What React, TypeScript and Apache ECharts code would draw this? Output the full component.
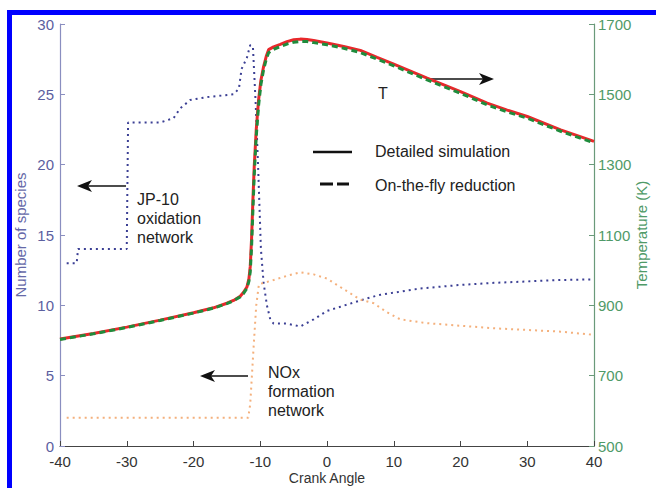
import React, { useEffect, useRef } from "react";
import * as echarts from "echarts";

// Crank angle axis ticks
const angleTicks = [-40, -30, -20, -10, 0, 10, 20, 30, 40];

// Temperature (K) versus crank angle
const tempAngles = [
  -40, -35, -30, -25, -20, -17, -15, -14, -13, -12.5, -12, -11.7, -11.5, -11.3, -11.1, -10.9,
  -10.6, -10.25, -9.9, -9.5, -9.1, -8.75, -8, -7, -6, -5, -4, -3, -2, 0, 2.5, 5, 7.5, 10,
  12.5, 15, 17.5, 20, 24, 27, 30, 35, 40,
];
const tempDetailed = [
  804, 820, 838, 858, 879, 893, 906, 914, 926, 937, 952, 975, 1010, 1090, 1200, 1295,
  1400, 1484, 1540, 1579, 1608, 1627, 1635, 1642, 1650, 1655, 1657, 1656, 1653, 1646, 1636, 1625, 1605, 1586,
  1566, 1546, 1527, 1508, 1475, 1455, 1437, 1399, 1366,
];
const tempReduced = [
  803, 819, 837, 857, 878, 892, 905, 913, 924, 934, 948, 968, 995, 1065, 1170, 1270,
  1380, 1468, 1528, 1570, 1600, 1618, 1628, 1636, 1643, 1648, 1650, 1650, 1647, 1641, 1631, 1619, 1600, 1581,
  1561, 1541, 1522, 1503, 1470, 1450, 1432, 1395, 1362,
];

// Number of species in the JP-10 oxidation network
const jp10Angles = [
  -39, -37.5, -37.3, -30, -29.8, -27, -25, -23, -22, -20.5, -18, -14, -13.2, -12.8, -12, -11.5,
  -11.1, -10.7, -10.3, -9.9, -9.5, -9, -8.5, -8, -6, -4, -2, 0, 2, 4, 6, 8, 10, 14, 20, 25, 30, 35, 40,
];
const jp10Species = [
  13, 13, 14, 14, 23, 23, 23, 23.3, 24, 24.6, 24.8, 25, 25.4, 26.8, 27.6, 28.5,
  28.4, 24.5, 19.6, 14, 11.6, 10, 9, 8.7, 8.7, 8.5, 9.0, 9.6, 9.9, 10.2, 10.5, 10.75, 10.9, 11.2, 11.45, 11.6, 11.7, 11.8, 11.85,
];

// Number of species in the NOx formation network
const noxAngles = [
  -39, -11.8, -11.5, -11, -10.6, -10.2, -8, -6, -4, -2, 0, 1, 3, 5, 7, 9, 11, 15, 20, 25, 30, 35, 40,
];
const noxSpecies = [
  2, 2, 3, 7, 10, 11.5, 11.8, 12.1, 12.35, 12.2, 11.9, 11.6, 11.0, 10.4, 10.15, 9.5, 9.0, 8.73, 8.55, 8.37, 8.25, 8.13, 7.9,
];

const zip = (xs: number[], ys: number[]) => xs.map((x, i) => [x, ys[i]]);

const FONT = "'Liberation Sans', Arial, sans-serif";
const SPECIES_COLOR = "#5c609f";
const TEMP_COLOR = "#4f9a68";

function arrow(x1: number, x2: number, y: number) {
  // horizontal arrow from x1 to a tip at x2
  const dir = x2 > x1 ? 1 : -1;
  return [
    {
      type: "line",
      shape: { x1, y1: y, x2: x2 - dir * 6, y2: y },
      style: { stroke: "#111", lineWidth: 1.5 },
    },
    {
      type: "polygon",
      shape: {
        points: [
          [x2, y],
          [x2 - dir * 15, y - 6],
          [x2 - dir * 11, y],
          [x2 - dir * 15, y + 6],
        ],
      },
      style: { fill: "#111" },
    },
  ];
}

function label(x: number, y: number, text: string, size = 16) {
  return {
    type: "text",
    x,
    y,
    style: {
      text,
      fill: "#222",
      font: `${size}px ${FONT}`,
      textVerticalAlign: "middle",
    },
  };
}

export default function App() {
  const ref = useRef<HTMLDivElement>(null);

  useEffect(() => {
    if (!ref.current) return;
    const chart = echarts.init(ref.current, undefined, { renderer: "svg" });
    chart.setOption({
      animation: false,
      backgroundColor: "#ffffff",
      grid: { left: 60, right: 62, top: 24, bottom: 42, containLabel: false, outerBoundsMode: "none" },
      xAxis: {
        type: "value",
        min: angleTicks[0],
        max: angleTicks[angleTicks.length - 1],
        interval: 10,
        name: "Crank Angle",
        nameLocation: "middle",
        nameGap: 25,
        nameMoveOverlap: false,
        nameTextStyle: { color: "#333", fontSize: 14, fontFamily: FONT },
        axisLine: { onZero: false, lineStyle: { color: "#444", width: 1.2 } },
        axisTick: { inside: true, length: 5, lineStyle: { color: "#444" } },
        axisLabel: { color: "#333", fontSize: 15, fontFamily: FONT, margin: 8, showMinLabel: true, showMaxLabel: true },
        splitLine: { show: false },
      },
      yAxis: [
        {
          type: "value",
          position: "left",
          min: 0,
          max: 30,
          interval: 5,
          name: "Number of species",
          nameLocation: "middle",
          nameGap: 32,
          nameMoveOverlap: false,
          nameRotate: 90,
          nameTextStyle: { color: "#6669a8", fontSize: 15, fontFamily: FONT },
          axisLine: { show: true, onZero: false, lineStyle: { color: "#8a8ec0", width: 1.2 } },
          axisTick: { show: true, inside: true, length: 5, lineStyle: { color: "#8a8ec0" } },
          axisLabel: { color: SPECIES_COLOR, fontSize: 15, fontFamily: FONT, margin: 6 },
          splitLine: { show: false },
        },
        {
          type: "value",
          position: "right",
          min: 500,
          max: 1700,
          interval: 200,
          name: "Temperature (K)",
          nameLocation: "middle",
          nameGap: 40,
          nameMoveOverlap: false,
          nameRotate: 90,
          nameTextStyle: { color: TEMP_COLOR, fontSize: 15, fontFamily: FONT },
          axisLine: { show: true, onZero: false, lineStyle: { color: "#6a9a7a", width: 1.2 } },
          axisTick: { show: true, inside: true, length: 5, lineStyle: { color: "#6a9a7a" } },
          axisLabel: {
            color: TEMP_COLOR,
            fontSize: 15,
            fontFamily: FONT,
            margin: 4,
            formatter: (v: number) => String(v),
          },
          splitLine: { show: false },
        },
      ],
      series: [
        {
          name: "JP-10 oxidation network",
          type: "line",
          yAxisIndex: 0,
          data: zip(jp10Angles, jp10Species),
          symbol: "none",
          lineStyle: { color: "#3b3f94", width: 2, type: [2, 4] },
          z: 2,
        },
        {
          name: "NOx formation network",
          type: "line",
          yAxisIndex: 0,
          data: zip(noxAngles, noxSpecies),
          symbol: "none",
          lineStyle: { color: "#f4b07c", width: 2, type: [2, 4] },
          z: 2,
        },
        {
          name: "Detailed simulation",
          type: "line",
          yAxisIndex: 1,
          data: zip(tempAngles, tempDetailed),
          symbol: "none",
          lineStyle: { color: "#e8282b", width: 3 },
          z: 3,
        },
        {
          name: "On-the-fly reduction",
          type: "line",
          yAxisIndex: 1,
          data: zip(tempAngles, tempReduced),
          symbol: "none",
          lineStyle: { color: "#1f8c3c", width: 3, type: [6, 4] },
          z: 4,
        },
      ],
      graphic: [
        // frame
        { type: "rect", shape: { x: 7, y: 10, width: 649, height: 5 }, style: { fill: "#0000ff" } },
        { type: "rect", shape: { x: 7, y: 10, width: 5, height: 478 }, style: { fill: "#0000ff" } },
        // legend
        { type: "line", shape: { x1: 313, y1: 152, x2: 352, y2: 152 }, style: { stroke: "#111", lineWidth: 2.5 } },
        { type: "line", shape: { x1: 320, y1: 184, x2: 349, y2: 184 }, style: { stroke: "#111", lineWidth: 3, lineDash: [13, 4] } },
        label(375, 151, "Detailed simulation"),
        label(375, 185, "On-the-fly reduction"),
        // annotations
        label(378, 93, "T"),
        ...arrow(429, 494, 79),
        label(137, 199, "JP-10"),
        label(137, 218, "oxidation"),
        label(137, 237, "network"),
        ...arrow(126, 77, 186),
        label(268, 372, "NOx"),
        label(268, 391, "formation"),
        label(268, 410, "network"),
        ...arrow(248, 200, 376),
      ],
    });
    return () => chart.dispose();
  }, []);

  return (
    <div
      ref={ref}
      style={{ position: "fixed", left: 0, top: 0, width: 656, height: 488, background: "#fff" }}
    />
  );
}
